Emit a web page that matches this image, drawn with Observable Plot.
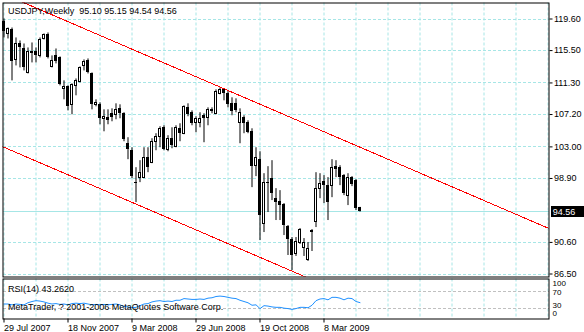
<!DOCTYPE html>
<html><head><meta charset="utf-8">
<script src="https://cdn.jsdelivr.net/npm/d3@7"></script>
<script src="https://cdn.jsdelivr.net/npm/@observablehq/plot@0.6"></script>
<style>
html,body{margin:0;padding:0;background:#fff;}
#chart{position:relative;width:584px;height:332px;overflow:hidden;background:#fff;font-family:"Liberation Sans",Arial,sans-serif;}
#chart svg{position:absolute;left:0;}
</style></head><body><div id="chart"></div>
<script>
const titleText = "USDJPY,Weekly\u00a0\u00a095.10 95.15 94.54 94.56";
const rsiTitle = "RSI(14) 43.2620";
const copyright = "MetaTrader, ? 2001-2006 MetaQuotes Software Corp.";

const open = [119.34,117.66,118.30,114.29,116.36,115.71,112.60,115.32,115.32,114.81,
117.01,117.53,113.38,114.81,114.55,110.53,110.79,108.46,110.92,111.44,
113.51,114.16,112.47,108.46,108.46,106.65,106.78,107.30,107.17,107.94,
107.30,103.41,102.50,98.36,99.01,99.01,101.60,100.95,103.67,104.32,
105.48,102.63,104.06,103.02,105.35,104.71,108.07,107.43,106.13,106.13,
107.04,106.78,107.81,107.30,109.88,110.40,109.88,108.59,108.59,106.13,
106.78,106.13,104.96,100.56,101.34,93.05,98.36,98.88,96.28,95.90,
95.51,92.66,90.98,89.16,90.46,89.94,88.26,92.14,93.31,97.58,
98.49,97.97,97.97,100.43,100.30,99.27,96.67,99.01,98.62,95.10];
const high = [119.60,118.43,118.43,117.14,116.75,116.36,115.84,116.49,115.84,117.14,
117.66,117.79,114.81,115.71,114.68,111.57,110.92,111.18,111.82,113.38,
114.29,114.42,112.60,109.11,108.72,107.81,107.81,107.94,108.59,108.46,
107.43,104.19,102.89,100.30,101.21,102.89,102.89,104.06,104.71,105.61,
105.74,104.45,105.48,105.74,106.00,108.33,108.59,107.68,106.91,107.43,
107.30,108.07,108.07,110.40,110.66,110.53,110.27,109.37,109.24,107.94,
107.04,106.39,105.35,102.89,102.37,99.52,100.43,101.21,97.58,97.32,
95.64,92.79,91.23,91.23,92.40,91.10,90.59,92.27,99.65,99.52,
99.27,99.01,101.34,101.21,100.56,99.40,99.52,99.14,98.75,95.15];
const low = [117.14,117.01,111.57,113.51,113.25,112.86,112.47,113.90,113.90,114.55,
116.88,114.42,113.25,113.77,110.92,109.11,107.68,107.17,109.63,111.31,
112.86,112.47,107.81,108.20,105.87,104.96,105.87,106.26,106.52,106.65,
103.67,101.34,98.88,95.77,98.36,98.88,99.65,100.82,102.50,102.89,
102.50,102.37,102.76,102.89,103.67,104.58,106.91,105.74,104.84,105.48,
103.54,105.74,107.30,107.17,109.76,108.98,108.07,107.04,107.43,103.41,
104.71,104.71,97.71,99.14,90.85,91.88,94.48,96.03,93.44,93.44,
91.49,88.90,86.96,88.78,90.33,88.78,88.13,89.42,92.53,96.28,
95.64,93.44,96.41,99.01,97.97,96.67,95.38,97.84,94.74,94.54];
const close = [118.04,118.30,114.03,116.36,115.84,113.25,115.32,115.07,114.81,116.88,
117.53,114.55,114.16,114.03,111.05,110.79,108.20,111.05,111.57,113.25,
114.03,112.60,108.46,108.72,106.65,106.91,106.39,106.78,107.81,107.30,
103.93,102.63,99.14,98.23,99.65,101.60,100.30,103.67,104.32,105.35,
102.63,104.06,103.15,105.48,104.71,108.20,107.17,106.00,106.65,106.65,
106.65,107.81,107.55,110.14,110.40,109.88,108.46,107.55,107.68,107.43,
106.00,104.84,100.43,101.60,94.09,98.36,98.23,96.93,95.77,95.38,
92.79,90.98,88.90,90.59,92.27,90.46,89.81,91.88,97.58,98.23,
97.97,95.77,100.30,100.04,99.01,96.93,99.01,98.10,95.00,94.56];
const rsi = [40,40,38,40,39,38,43,46,48,47,
45,42,40,41,39,40,38,41,42,41,
42,40,38,39,38,39,38,39,40,38,
34,33,31,32,36,40,41,45,47,48,
46,47,46,49,49,53,52,51,51,52,
51,54,55,58,59,58,56,54,53,49,
46,43,37,38,29,36,35,33,32,32,
30,29,27,29,32,32,31,37,48,52,
53,50,56,56,54,50,54,53,46,43.26];

const priceTicks = [119.60, 115.50, 111.30, 107.20, 103.00, 98.90, 90.60, 86.50];
const dateTickBars = [0, 16, 32, 48, 64, 80];
const dateTickLabels = ["29 Jul 2007", "18 Nov 2007", "9 Mar 2008", "29 Jun 2008", "19 Oct 2008", "8 Mar 2009"];
const rsiLevels = [70, 30];
const rsiScaleLabels = ["100", "70", "30", "0"];
const upperChannel = [{i: -1, p: 123.05}, {i: 137, p: 92.24}];
const lowerChannel = [{i: -1, p: 103.17}, {i: 137, p: 72.36}];
const lastClose = close[close.length - 1];

const bars = open.map((o, i) => ({i, o, h: high[i], l: low[i], c: close[i]}));
const bear = bars.filter(d => d.c < d.o);
const bull = bars.filter(d => d.c >= d.o);
const gridBars = d3.range(0, 137, 8);

const GRID = "#a6e6e6";
const FONT = "'Liberation Sans', Arial, sans-serif";
const xDomain = [-0.25, 136.25];

const main = Plot.plot({
  width: 584, height: 278,
  marginLeft: 2.5, marginRight: 35.5, marginTop: 2.5, marginBottom: 1.5,
  style: {fontFamily: FONT, fontSize: "9px", background: "transparent", overflow: "visible"},
  x: {domain: xDomain, axis: null},
  y: {domain: [86.111, 121.677], axis: null},
  marks: [
    Plot.ruleX(gridBars, {stroke: GRID, strokeDasharray: "3,2"}),
    Plot.ruleY(priceTicks, {stroke: GRID, strokeDasharray: "3,2", shapeRendering: "crispEdges"}),
    Plot.ruleY([lastClose], {stroke: GRID, shapeRendering: "crispEdges"}),
    Plot.ruleX(bars, {x: "i", y1: "l", y2: "h", stroke: "#000"}),
    Plot.rect(bear, {x1: d => d.i - 0.375, x2: d => d.i + 0.375, y1: "o", y2: "c", fill: "#000", shapeRendering: "crispEdges"}),
    Plot.rect(bull, {x1: d => d.i - 0.25, x2: d => d.i + 0.25, y1: "o", y2: "c", fill: "#fff", stroke: "#000", shapeRendering: "crispEdges"}),
    Plot.line(upperChannel, {x: "i", y: "p", stroke: "#ff0000", strokeWidth: 1, clip: true, shapeRendering: "crispEdges"}),
    Plot.line(lowerChannel, {x: "i", y: "p", stroke: "#ff0000", strokeWidth: 1, clip: true, shapeRendering: "crispEdges"}),
    Plot.text([titleText], {frameAnchor: "top-left", dx: 5, dy: 5, lineAnchor: "top", textAnchor: "start", fill: "#000", fontSize: 9}),
    Plot.axisY(priceTicks, {anchor: "right", tickSize: 3, tickPadding: 2, tickFormat: d => d.toFixed(2), fontSize: 9}),
    Plot.frame({stroke: "#000"}),
    // current price label box in the right margin
    Plot.rect([lastClose], {x1: 136.75, x2: 145, y1: d => d - 0.72, y2: d => d + 0.72, fill: "#000", shapeRendering: "crispEdges"}),
    Plot.text([lastClose], {x: 137.2, y: d => d, text: d => d.toFixed(2), textAnchor: "start", lineAnchor: "middle", fill: "#fff", fontSize: 9})
  ]
});
main.style.top = "0px";

const sub = Plot.plot({
  width: 584, height: 56,
  marginLeft: 2.5, marginRight: 35.5, marginTop: 2.5, marginBottom: 13.5,
  style: {fontFamily: FONT, fontSize: "9px", background: "transparent", overflow: "visible"},
  x: {domain: xDomain, axis: null},
  y: {domain: [4, 100], axis: null},
  marks: [
    Plot.ruleX(gridBars, {stroke: GRID, strokeDasharray: "3,2"}),
    Plot.ruleY(rsiLevels, {stroke: "#c0c0c0", strokeDasharray: "3,2", shapeRendering: "crispEdges"}),
    Plot.line(rsi, {x: (d, i) => i, y: d => d, stroke: "#1e90ff", strokeWidth: 1, clip: true}),
    Plot.text([rsiTitle], {frameAnchor: "top-left", dx: 5, dy: 6.8, lineAnchor: "top", textAnchor: "start", fill: "#000", fontSize: 9}),
    Plot.text([copyright], {frameAnchor: "top-left", dx: 5, dy: 25, lineAnchor: "top", textAnchor: "start", fill: "#000", fontSize: 9}),
    Plot.text([rsiScaleLabels[0]], {frameAnchor: "right", y: [100], textAnchor: "start", lineAnchor: "middle", dx: 3.5, dy: 4, fill: "#000", fontSize: 8}),
    Plot.text([rsiScaleLabels[1]], {frameAnchor: "right", y: [70], textAnchor: "start", lineAnchor: "middle", dx: 3.5, dy: 0.5, fill: "#000", fontSize: 8}),
    Plot.text([rsiScaleLabels[2]], {frameAnchor: "right", y: [30], textAnchor: "start", lineAnchor: "middle", dx: 3.5, dy: -3, fill: "#000", fontSize: 8}),
    Plot.text([rsiScaleLabels[3]], {frameAnchor: "right", y: [0], textAnchor: "start", lineAnchor: "middle", dx: 3.5, dy: -7.5, fill: "#000", fontSize: 8}),
    Plot.axisX(dateTickBars, {anchor: "bottom", tickSize: 4, tickPadding: 2, textAnchor: "start", fontSize: 9,
      tickFormat: d => dateTickLabels[dateTickBars.indexOf(d)]}),
    Plot.frame({stroke: "#000"})
  ]
});
sub.style.top = "276px";

const host = document.getElementById("chart");
host.appendChild(main);
host.appendChild(sub);
</script></body></html>
